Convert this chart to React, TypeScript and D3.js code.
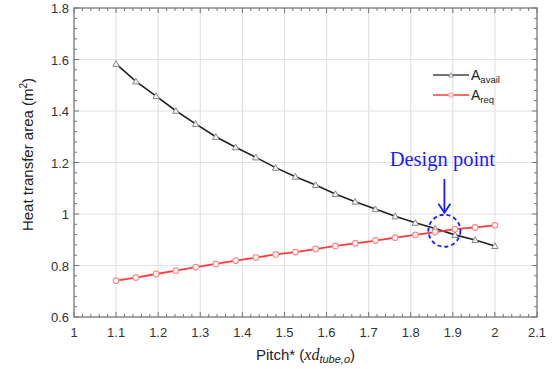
import React from "react";
import * as d3 from "d3";

// Pitch* values (20 evenly spaced points between 1.1 and 2.0)
const pitch = [
  1.1, 1.147, 1.195, 1.242, 1.289, 1.337, 1.384, 1.432, 1.479, 1.526,
  1.574, 1.621, 1.668, 1.716, 1.763, 1.811, 1.858, 1.905, 1.953, 2.0,
];
const aAvail = [
  1.583, 1.515, 1.458, 1.401, 1.35, 1.3, 1.259, 1.22, 1.18, 1.145,
  1.113, 1.078, 1.048, 1.019, 0.991, 0.966, 0.944, 0.919, 0.899, 0.876,
];
const aReq = [
  0.741, 0.753, 0.767, 0.78, 0.794, 0.806, 0.819, 0.831, 0.843, 0.852,
  0.864, 0.876, 0.886, 0.897, 0.908, 0.919, 0.93, 0.941, 0.948, 0.956,
];
const xTicks = [1, 1.1, 1.2, 1.3, 1.4, 1.5, 1.6, 1.7, 1.8, 1.9, 2, 2.1];
const yTicks = [0.6, 0.8, 1, 1.2, 1.4, 1.6, 1.8];
const designPoint = { x: 1.88, y: 0.935 };

const W = 554;
const H = 369;
const margin = { top: 8, right: 17, bottom: 52, left: 74 };
const sans = "'Liberation Sans', Arial, sans-serif";
const serif = "'Liberation Serif', 'Times New Roman', serif";

export default function App() {
  const x = d3.scaleLinear().domain([1, 2.1]).range([margin.left, W - margin.right]);
  const y = d3.scaleLinear().domain([0.6, 1.8]).range([H - margin.bottom, margin.top]);
  const [x0, x1] = x.range();
  const [y0, y1] = y.range();

  const line = d3
    .line<number>()
    .x((_, i) => x(pitch[i]))
    .y((d) => y(d));

  // minor ticks, 5 subdivisions per major
  const xMinor = d3.range(1, 2.1001, 0.02);
  const yMinor = d3.range(0.6, 1.8001, 0.04);

  const tri = (cx: number, cy: number, r = 3.2) =>
    `M${cx},${cy - r}L${cx + r},${cy + r * 0.8}L${cx - r},${cy + r * 0.8}Z`;

  const cx = x(designPoint.x);
  const cy = y(designPoint.y);

  return (
    <svg
      width={W}
      height={H}
      style={{ position: "absolute", left: 0, top: 0, background: "#fff" }}
    >
      {/* grid */}
      {xTicks.slice(1, -1).map((t) => (
        <line key={"gx" + t} x1={x(t)} x2={x(t)} y1={y0} y2={y1} stroke="#e2e2e2" strokeWidth={1.2} />
      ))}
      {yTicks.slice(1, -1).map((t) => (
        <line key={"gy" + t} x1={x0} x2={x1} y1={y(t)} y2={y(t)} stroke="#e2e2e2" strokeWidth={1.2} />
      ))}

      {/* minor ticks */}
      {xMinor.map((t, i) => {
        const len = i % 5 === 0 ? 5 : 3;
        return (
          <g key={"mx" + i} stroke="#777" strokeWidth={1}>
            <line x1={x(t)} x2={x(t)} y1={y0} y2={y0 - len} />
            <line x1={x(t)} x2={x(t)} y1={y1} y2={y1 + len} />
          </g>
        );
      })}
      {yMinor.map((t, i) => {
        const len = i % 5 === 0 ? 5 : 3;
        return (
          <g key={"my" + i} stroke="#777" strokeWidth={1}>
            <line x1={x0} x2={x0 + len} y1={y(t)} y2={y(t)} />
            <line x1={x1} x2={x1 - len} y1={y(t)} y2={y(t)} />
          </g>
        );
      })}

      {/* frame */}
      <rect x={x0} y={y1} width={x1 - x0} height={y0 - y1} fill="none" stroke="#777" strokeWidth={1.3} />

      {/* tick labels */}
      {xTicks.map((t) => (
        <text key={"tx" + t} x={x(t)} y={y0 + 20} textAnchor="middle" fontFamily={sans} fontSize={13} fill="#333">
          {d3.format("~g")(t)}
        </text>
      ))}
      {yTicks.map((t) => (
        <text key={"ty" + t} x={x0 - 5} y={y(t) + 5} textAnchor="end" fontFamily={sans} fontSize={13} fill="#333">
          {d3.format("~g")(t)}
        </text>
      ))}

      {/* axis titles */}
      <text
        transform={`translate(33,${(y0 + y1) / 2 - 8}) rotate(-90)`}
        textAnchor="middle"
        fontFamily={sans}
        fontSize={15}
        fill="#222"
      >
        Heat transfer area (m<tspan dy={-6} fontSize={10}>2</tspan>
        <tspan dy={6}>)</tspan>
      </text>
      <text x={(x0 + x1) / 2} y={360} textAnchor="middle" fontFamily={sans} fontSize={15} fill="#222">
        Pitch* (<tspan fontFamily={serif} fontStyle="italic" fontSize={16}>xd</tspan>
        <tspan dy={3} fontStyle="italic" fontSize={11}>tube,o</tspan>
        <tspan dy={-3}>)</tspan>
      </text>

      {/* series */}
      <path d={line(aAvail) ?? ""} fill="none" stroke="#222" strokeWidth={1.6} />
      {aAvail.map((v, i) => (
        <path key={"ma" + i} d={tri(x(pitch[i]), y(v))} fill="#f4f4f4" stroke="#888" strokeWidth={1} />
      ))}
      <path d={line(aReq) ?? ""} fill="none" stroke="#ff3b3b" strokeWidth={1.8} />
      {aReq.map((v, i) => (
        <circle key={"mr" + i} cx={x(pitch[i])} cy={y(v)} r={2.8} fill="#fff" stroke="#ff8a8a" strokeWidth={1.2} />
      ))}

      {/* legend */}
      <g fontFamily={sans}>
        <line x1={433} x2={469} y1={75} y2={75} stroke="#444" strokeWidth={1.6} />
        <path d={tri(451, 75, 2.4)} fill="#f4f4f4" stroke="#888" strokeWidth={0.8} />
        <text x={471} y={80} fontSize={14} fill="#222">
          A<tspan dy={3} fontSize={9.5}>avail</tspan>
        </text>
        <line x1={433} x2={469} y1={95} y2={95} stroke="#ff3b3b" strokeWidth={1.6} />
        <circle cx={451} cy={95} r={2.3} fill="#fff" stroke="#ff8a8a" strokeWidth={1} />
        <text x={471} y={100} fontSize={14} fill="#222">
          A<tspan dy={3} fontSize={9.5}>req</tspan>
        </text>
      </g>

      {/* design point annotation */}
      <circle cx={cx} cy={cy} r={16} fill="none" stroke="#1a1aff" strokeWidth={1.8} strokeDasharray="4,3" />
      <line x1={cx} x2={cx} y1={179} y2={cy - 18} stroke="#1a1aff" strokeWidth={1.8} />
      <path
        d={`M${cx - 6},${cy - 27}L${cx},${cy - 18}L${cx + 6},${cy - 27}`}
        fill="none"
        stroke="#1a1aff"
        strokeWidth={1.8}
      />
      <text x={cx - 2} y={166} textAnchor="middle" fontFamily={serif} fontSize={20.5} fill="#1a1aff">
        Design point
      </text>
    </svg>
  );
}
